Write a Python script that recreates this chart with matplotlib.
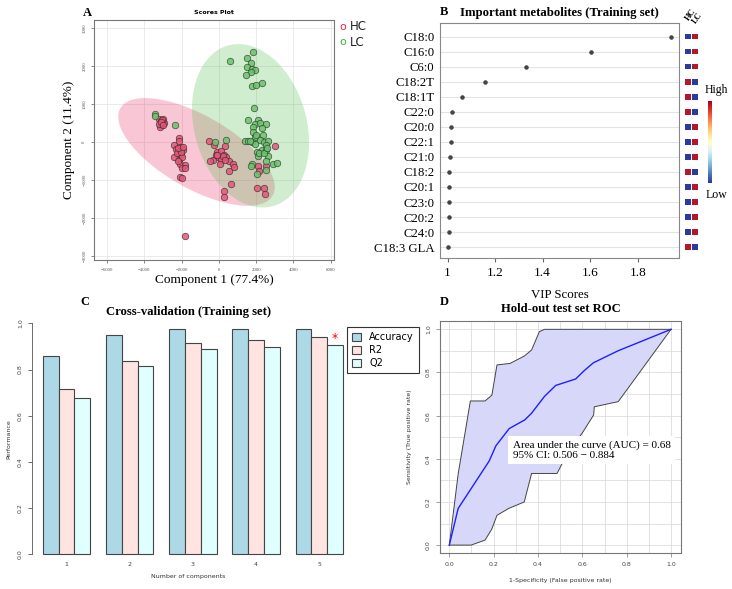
import numpy as np
import matplotlib.pyplot as plt
from matplotlib.patches import Patch

plt.rcParams['font.family'] = ['Liberation Serif', 'DejaVu Serif']

# ---------------- data ----------------
# A: PLS-DA scores
hc_x = [-3200, -3100, -3000, -3050, -3150, -3000, -2950, -3100, -3200, -3050, -3120, -2980,
        -2150, -2150, -2400, -2280, -2040, -1920, -2190, -2010, -2400, -2150, -1960, -2100,
        -1810, -1960, -2060, -1960, -1830, -2190, -2250, -2050, -2200, -1900,
        -1830,
        -520, -250, 340, -120, 110, 270, -36, -300, -450, 140, 410, 540, 770, 810, 520,
        650, 300, 300, 54, -160, 200, -80, 350,
        3010, 2530, 2110, 2130, 2060, 2440, 2470]
hc_y = [600, 560, 520, 450, 400, 600, 500, 480, 480, 580, 530, 450,
        100, 20, -90, -190, -130, -200, -260, -330, -400, -470, -400, -570,
        -600, -690, -920, -960, -690, -500, -300, -250, -150, -120,
        -2470,
        40, -70, -110, -260, -240, -330, -400, -480, -510, -470, -400, -500, -570, -660, -770,
        -1100, -1290, -1450, -570, -330, -380, -330, -460,
        -110, -630, -620, -750, -1200, -1200, -1360]
lc_x = [1850, 590, 1520, 1700, 1520, 1790, 1940, 1700, 1450, 1790, 2020, 2290, 1880,
        1580, 2080, 1940, 2200, 2530, 1810, 2290, 1840, 2350, 1940, 1400, 1580, 1760,
        2200, 2440, 2620, 2530, 2290, 2550, 2060, 2650, 2110, 2550, 2920, 3140, 1790,
        2510, 2060, 380, -200, 1940, -3440, -3440, -2330, 2000, 1650, 2150, 2400, 2600, 1750]
lc_y = [2370, 2140, 2210, 2080, 1970, 1940, 1900, 1840, 1780, 1490, 1500, 1560, 910,
        570, 570, 480, 500, 480, 400, 370, 260, 190, 130, 30, 20, 0,
        60, 0, 20, -90, -220, -220, -250, -370, -370, -500, -590, -550, -590,
        -730, -850, 60, 0, -40, 750, 700, 460, 200, 30, -300, -300, -150, -620]
# confidence ellipses: centre, sd x, sd y, correlation
hc_ell = (-1200, -260, 4200, 1420, -0.654)
lc_ell = (1700, 430, 3140, 2155, -0.207)

# B: VIP scores
metabolites = ['C18:0', 'C16:0', 'C6:0', 'C18:2T', 'C18:1T', 'C22:0', 'C20:0', 'C22:1',
               'C21:0', 'C18:2', 'C20:1', 'C23:0', 'C20:2', 'C24:0', 'C18:3 GLA']
vip = [1.940, 1.603, 1.330, 1.157, 1.060, 1.018, 1.015, 1.013, 1.010, 1.007, 1.007,
       1.007, 1.006, 1.004, 1.003]
# 1 = high, 0 = low  (HC, LC)
hc_level = [0, 0, 0, 1, 1, 1, 0, 0, 0, 1, 0, 0, 0, 0, 1]
lc_level = [1, 1, 1, 0, 0, 0, 1, 1, 1, 0, 1, 1, 1, 1, 0]

# C: cross-validation
n_comp = [1, 2, 3, 4, 5]
accuracy = [0.860, 0.950, 0.974, 0.974, 0.974]
r2 = [0.717, 0.838, 0.913, 0.928, 0.942]
q2 = [0.675, 0.815, 0.890, 0.896, 0.906]

# D: ROC
roc_fpr = [0.0, 0.04, 0.11, 0.18, 0.21, 0.27, 0.34, 0.37, 0.43, 0.48, 0.57, 0.61, 0.65, 0.76, 1.0]
roc_tpr = [0.0, 0.17, 0.28, 0.39, 0.46, 0.54, 0.58, 0.61, 0.69, 0.74, 0.77, 0.81, 0.845, 0.90, 1.0]
ci_up_fpr = [0.0, 0.04, 0.095, 0.161, 0.192, 0.215, 0.274, 0.338, 0.371, 0.406, 0.429, 1.0]
ci_up_tpr = [0.0, 0.33, 0.668, 0.668, 0.695, 0.835, 0.842, 0.876, 0.904, 0.989, 1.0, 1.0]
ci_lo_fpr = [0.0, 0.098, 0.161, 0.191, 0.215, 0.268, 0.338, 0.371, 0.486, 0.53, 0.60, 0.651, 0.654, 0.762, 1.0]
ci_lo_tpr = [0.0, 0.0, 0.023, 0.073, 0.138, 0.17, 0.2, 0.332, 0.332, 0.42, 0.52, 0.603, 0.641, 0.665, 1.0]

W, H = 732, 589
fig = plt.figure(figsize=(W / 100, H / 100), dpi=100)


def box(x0, y0, x1, y1):
    return [x0 / W, 1 - y1 / H, (x1 - x0) / W, (y1 - y0) / H]


def ellipse(ax, params, color):
    cx, cy, sx, sy, rho = params
    cov = np.array([[sx * sx, rho * sx * sy], [rho * sx * sy, sy * sy]])
    L = np.linalg.cholesky(cov)
    t = np.linspace(0, 2 * np.pi, 200)
    pts = L @ np.vstack([np.cos(t), np.sin(t)])
    ax.fill(cx + pts[0], cy + pts[1], color=color, alpha=0.26, lw=0, zorder=1)


# ---------------- A ----------------
axA = fig.add_axes(box(94, 20, 334, 260))
ellipse(axA, hc_ell, '#e8245e')
ellipse(axA, lc_ell, '#4cbb4c')
axA.scatter(hc_x, hc_y, s=22, c='#e4567a', edgecolors='#3a2a2a', linewidths=0.5, alpha=0.85, zorder=3)
axA.scatter(lc_x, lc_y, s=22, c='#6cc26c', edgecolors='#2a3a2a', linewidths=0.5, alpha=0.85, zorder=3)
axA.set_xlim(-6700, 6180)
axA.set_ylim(-3110, 3220)
axA.set_xticks(np.arange(-6000, 6001, 2000))
axA.set_yticks(np.arange(-3000, 3001, 1000))
axA.tick_params(labelsize=3.5, length=2, width=0.5, color='#555555', labelcolor='#555555')
for lab in axA.get_yticklabels():
    lab.set_rotation(90)
    lab.set_va('center')
axA.grid(True, color='#e6e6e6', lw=0.6)
axA.set_axisbelow(True)
for s in axA.spines.values():
    s.set_color('#777777')
    s.set_linewidth(0.8)
axA.set_title('Scores Plot', fontsize=4.5, fontweight='bold', family='DejaVu Sans', pad=4)
axA.set_xlabel('Component 1 (77.4%)', fontsize=9.5, labelpad=2)
axA.set_ylabel('Component 2 (11.4%)', fontsize=9.5, labelpad=5)
fig.text(83 / W, 1 - 13 / H, 'A', fontsize=9, fontweight='bold', va='center')
fig.text(339 / W, 1 - 27 / H, 'o', color='#e8234b', fontsize=8, family='DejaVu Sans', va='center')
fig.text(350 / W, 1 - 27 / H, 'HC', color='#222222', fontsize=8.5, family='DejaVu Sans', va='center')
fig.text(339 / W, 1 - 42 / H, 'o', color='#3cb43c', fontsize=8, family='DejaVu Sans', va='center')
fig.text(350 / W, 1 - 42 / H, 'LC', color='#222222', fontsize=8.5, family='DejaVu Sans', va='center')

# ---------------- B ----------------
axB = fig.add_axes(box(440, 23, 679, 258))
rows = np.arange(len(metabolites))
axB.scatter(vip, rows, s=5, color='#444444', zorder=3)
axB.set_ylim(len(metabolites) - 1 + 0.72, -0.9)
axB.set_xlim(0.968, 1.974)
axB.set_yticks(rows)
axB.set_yticklabels(metabolites)
axB.set_xticks([1, 1.2, 1.4, 1.6, 1.8])
axB.set_xticklabels(['1', '1.2', '1.4', '1.6', '1.8'])
axB.tick_params(axis='y', length=0, labelsize=9.2, pad=4)
axB.tick_params(axis='x', length=3, labelsize=9.5, color='#666666')
for r in rows:
    axB.axhline(r, color='#e3e3e3', lw=0.8, zorder=1)
for s in axB.spines.values():
    s.set_color('#888888')
    s.set_linewidth(0.8)
axB.set_xlabel('VIP Scores', fontsize=9.3, labelpad=7)
axB.set_title('Important metabolites (Training set)', fontsize=9.2, fontweight='bold', pad=5)
fig.text(440 / W, 1 - 12 / H, 'B', fontsize=9, fontweight='bold', va='center')

axH = fig.add_axes(box(683, 23, 700, 258))
axH.set_ylim(axB.get_ylim())
axH.set_xlim(-0.7, 1.7)
cmap_hl = {0: '#2b3a9e', 1: '#b2182b'}
axH.scatter([0] * len(rows), rows, marker='s', s=17, c=[cmap_hl[v] for v in hc_level], lw=0)
axH.scatter([1] * len(rows), rows, marker='s', s=17, c=[cmap_hl[v] for v in lc_level], lw=0)
axH.axis('off')
fig.text(691 / W, 1 - 15 / H, 'HC', fontsize=6, fontweight='bold', rotation=55, ha='center', va='center')
fig.text(697.5 / W, 1 - 18 / H, 'LC', fontsize=6, fontweight='bold', rotation=55, ha='center', va='center')

axCb = fig.add_axes(box(707.5, 101, 711, 183))
grad = np.linspace(0, 1, 256).reshape(-1, 1)
axCb.imshow(grad, aspect='auto', cmap='RdYlBu_r', origin='lower')
axCb.axis('off')
fig.text(716 / W, 1 - 90 / H, 'High', fontsize=8.5, ha='center', va='center')
fig.text(716 / W, 1 - 195 / H, 'Low', fontsize=8.5, ha='center', va='center')

# ---------------- C ----------------
axC = fig.add_axes(box(32, 318, 345, 561))
grp = np.array([1 + 4 * (n - 1) for n in n_comp])
bar_cols = ['#add8e6', '#ffe4e1', '#e0ffff']
for k, (vals, col) in enumerate(zip([accuracy, r2, q2], bar_cols)):
    axC.bar(grp + k, vals, width=1, align='edge', color=col, edgecolor='#444444', lw=0.8)
axC.text(grp[-1] + 2.5, q2[-1] + 0.002, '*', color='red', fontsize=9, ha='center', va='bottom',
         family='DejaVu Sans')
axC.set_xlim(0.32, 20.13)
axC.set_ylim(-0.029, 1.023)
axC.set_yticks(np.arange(0, 1.01, 0.2))
axC.set_yticklabels(['0.0', '0.2', '0.4', '0.6', '0.8', '1.0'], rotation=90, va='center',
                    family='DejaVu Sans')
axC.set_xticks(grp + 1.5)
axC.set_xticklabels([str(n) for n in n_comp], family='DejaVu Sans')
axC.tick_params(axis='y', labelsize=4.5, length=3, width=0.6, color='#555555', labelcolor='#444444')
axC.tick_params(axis='x', labelsize=4.5, length=0, pad=1, labelcolor='#444444')
for s in ['top', 'right', 'bottom']:
    axC.spines[s].set_visible(False)
axC.spines['left'].set_bounds(0, 1)
axC.spines['left'].set_color('#555555')
axC.spines['left'].set_linewidth(0.6)
axC.set_ylabel('Performance', fontsize=4.5, family='DejaVu Sans', labelpad=5, color='#333333')
axC.set_xlabel('Number of components', fontsize=4.5, family='DejaVu Sans', labelpad=5, color='#333333')
fig.text(188 / W, 1 - 312 / H, 'Cross-validation (Training set)', fontsize=9.1, fontweight='bold',
         ha='center', va='center')
fig.text(80 / W, 1 - 302 / H, 'C', fontsize=9, fontweight='bold', va='center')
handles = [Patch(facecolor=c, edgecolor='#444444', lw=0.8) for c in bar_cols]
leg = axC.legend(handles, ['Accuracy', 'R2', 'Q2'], loc='upper left',
                 bbox_to_anchor=(346.7 / W, 1 - 327.3 / H), bbox_transform=fig.transFigure,
                 fancybox=False, framealpha=1, edgecolor='#333333', prop={'family': 'DejaVu Sans', 'size': 7},
                 handlelength=1.0, handleheight=0.9, borderpad=0.5, labelspacing=0.3, handletextpad=0.8,
                 borderaxespad=0)
leg.get_frame().set_linewidth(0.8)

# ---------------- D ----------------
axD = fig.add_axes(box(440, 320.7, 681, 553.3))
poly_x = ci_up_fpr + ci_lo_fpr[::-1]
poly_y = ci_up_tpr + ci_lo_tpr[::-1]
axD.fill(poly_x, poly_y, color='#d7d7fa', lw=0, zorder=1)
axD.plot(ci_up_fpr, ci_up_tpr, color='#444444', lw=0.7, zorder=2)
axD.plot(ci_lo_fpr, ci_lo_tpr, color='#444444', lw=0.7, zorder=2)
axD.plot(roc_fpr, roc_tpr, color='#1f1fff', lw=1.0, zorder=3)
axD.set_xlim(-0.042, 1.045)
axD.set_ylim(-0.038, 1.04)
axD.set_xticks(np.arange(0, 1.01, 0.1), minor=True)
axD.set_yticks(np.arange(0, 1.01, 0.1), minor=True)
axD.set_xticks(np.arange(0, 1.01, 0.2))
axD.set_yticks(np.arange(0, 1.01, 0.2))
axD.set_xticklabels(['0.0', '0.2', '0.4', '0.6', '0.8', '1.0'], family='DejaVu Sans')
axD.set_yticklabels(['0.0', '0.2', '0.4', '0.6', '0.8', '1.0'], family='DejaVu Sans', rotation=90, va='center')
axD.grid(True, which='both', color='#dddddd', lw=0.6, zorder=0)
axD.set_axisbelow(True)
axD.tick_params(which='both', labelsize=4.5, length=3, width=0.5, color='#777777', labelcolor='#444444')
axD.tick_params(which='minor', length=0)
for s in axD.spines.values():
    s.set_color('#777777')
    s.set_linewidth(0.8)
axD.text(0.286, 0.44, 'Area under the curve (AUC) = 0.68\n95% CI: 0.506 \u2212 0.884', fontsize=8,
         va='center', ha='left', linespacing=1.2, zorder=5,
         bbox=dict(facecolor='white', edgecolor='none', pad=3))
axD.set_xlabel('1-Specificity (False positive rate)', fontsize=4.5, family='DejaVu Sans', labelpad=8, color='#333333')
axD.set_ylabel('Sensitivity (True positive rate)', fontsize=4.5, family='DejaVu Sans', labelpad=10, color='#333333')
axD.set_title('Hold-out test set ROC', fontsize=9.1, fontweight='bold', pad=6)
fig.text(440 / W, 1 - 302 / H, 'D', fontsize=9, fontweight='bold', va='center')

fig.savefig('out.png', dpi=100)
